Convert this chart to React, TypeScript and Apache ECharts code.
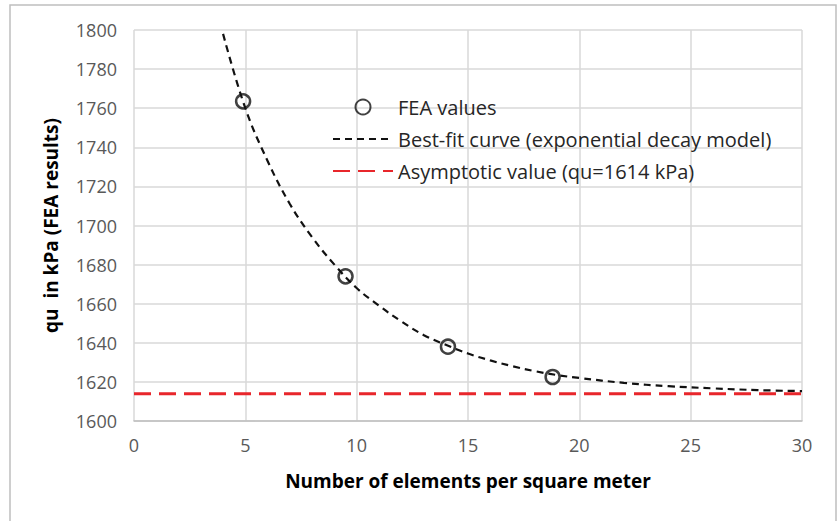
import React, { useEffect, useRef } from "react";
import * as echarts from "echarts";

const feaX = [4.9, 9.5, 14.1, 18.8];
const feaY = [1763.5, 1674, 1638, 1622.5];

const curveX = [4, 5, 6, 7, 8, 9, 10, 11, 12, 13, 14, 15, 16, 17, 18, 19, 20, 22, 24, 26, 28, 30];
const curveY = [1798, 1760, 1733, 1711, 1694, 1680, 1668, 1659, 1651, 1644, 1639, 1634.5, 1631, 1628, 1625.5, 1623.5, 1622, 1619.5, 1617.8, 1616.7, 1615.8, 1615.3];

const asymX = [0, 30];
const asymY = [1614, 1614];

const FONT = "Open Sans";

export default function App() {
  const ref = useRef<HTMLDivElement>(null);
  useEffect(() => {
    if (!ref.current) return;
    const chart = echarts.init(ref.current, null, { renderer: "svg" });
    chart.setOption({
      animation: false,
      backgroundColor: "#fff",
      textStyle: { fontFamily: FONT },
      graphic: [
        {
          type: "rect",
          shape: { x: 10, y: 5, width: 826, height: 530 },
          style: { fill: "none", stroke: "#bfbfbf", lineWidth: 1.5 },
          silent: true,
        },
      ],
      grid: { left: 134, right: 36, top: 30, bottom: 100, containLabel: false },
      legend: {
        orient: "vertical",
        left: 327,
        top: 92,
        itemWidth: 60,
        itemHeight: 15,
        itemGap: 12,
        textStyle: { fontSize: 20, color: "#262626", fontFamily: FONT },
        data: [
          { name: "FEA values" },
          { name: "Best-fit curve (exponential decay model)", itemStyle: { opacity: 0 } },
          { name: "Asymptotic value (qu=1614 kPa)", itemStyle: { opacity: 0 } },
        ],
      },
      xAxis: {
        type: "value",
        min: 0,
        max: 30,
        interval: 5,
        name: "Number of elements per square meter",
        nameLocation: "middle",
        nameGap: 50,
        nameTextStyle: { fontSize: 19, fontWeight: "bold", color: "#000", fontFamily: FONT },
        axisLine: { show: true, lineStyle: { color: "#bfbfbf", width: 1.5 } },
        axisTick: { show: false },
        axisLabel: { fontSize: 18, color: "#595959", margin: 15, fontFamily: FONT },
        splitLine: { show: true, lineStyle: { color: "#d9d9d9", width: 1.5 } },
      },
      yAxis: {
        type: "value",
        min: 1600,
        max: 1800,
        interval: 20,
        name: "qu  in kPa (FEA results)",
        nameLocation: "middle",
        nameGap: 74,
        nameRotate: 90,
        nameTextStyle: { fontSize: 19, fontWeight: "bold", color: "#000", fontFamily: FONT },
        axisLine: { show: false },
        axisTick: { show: false },
        axisLabel: {
          fontSize: 18,
          color: "#595959",
          margin: 17,
          fontFamily: FONT,
          formatter: (v: number) => String(v),
        },
        splitLine: { show: true, lineStyle: { color: "#d9d9d9", width: 1.5 } },
      },
      series: [
        {
          name: "Asymptotic value (qu=1614 kPa)",
          type: "line",
          data: asymX.map((x, i) => [x, asymY[i]]),
          showSymbol: false,
          symbol: "none",
          lineStyle: { color: "#e8262b", width: 3, type: [17, 8] },
          itemStyle: { color: "#e8262b" },
          z: 2,
        },
        {
          name: "Best-fit curve (exponential decay model)",
          type: "line",
          data: curveX.map((x, i) => [x, curveY[i]]),
          smooth: 0.4,
          showSymbol: false,
          symbol: "none",
          lineStyle: { color: "#111", width: 2.2, type: [7, 5] },
          itemStyle: { color: "#111" },
          z: 3,
        },
        {
          name: "FEA values",
          type: "scatter",
          data: feaX.map((x, i) => [x, feaY[i]]),
          symbol: "circle",
          symbolSize: 14,
          itemStyle: { color: "rgba(255,255,255,0)", borderColor: "#111", borderWidth: 2.5 },
          z: 4,
        },
      ],
    });
    return () => chart.dispose();
  }, []);
  return (
    <div
      ref={ref}
      style={{ position: "absolute", left: 0, top: 0, width: 838, height: 521 }}
    />
  );
}
